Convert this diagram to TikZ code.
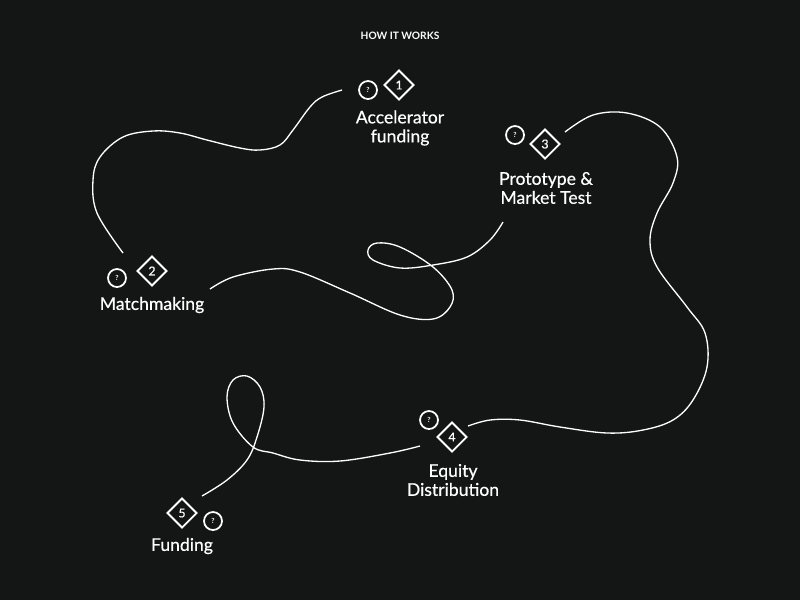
\documentclass[tikz,border=0pt]{standalone}
\usepackage{fontspec}
\setmainfont{Lato}
\newfontfamily\stepfont{Lato}[FakeBold=0.5]
\usetikzlibrary{shapes.geometric}
\definecolor{board}{HTML}{141515}
\tikzset{
  stepmark/.style={diamond, draw=white, line width=1.1pt, minimum size=0.6cm, inner sep=0pt, text=white, font=\stepfont\fontsize{7}{7}\selectfont},
  askmark/.style={circle, draw=white, line width=1pt, minimum size=0.36cm, inner sep=0pt, text=white, font=\bfseries\fontsize{4}{4}\selectfont},
  steplabel/.style={text=white, align=center, font=\stepfont\fontsize{10}{10.8}\selectfont},
  trail/.style={white, line width=0.75pt, smooth, tension=0.6},
}
\begin{document}
\begin{tikzpicture}[x=0.02cm,y=-0.02cm]
\fill[board] (0,0) rectangle (800,600);
\node[text=white, font=\bfseries\fontsize{5.8}{6}\selectfont] (title) at (400,36) {HOW IT WORKS};
% steps
\node[stepmark] (s1) at (399,85) {1};
\node[askmark] (q1) at (368,90) {?};
\node[steplabel] (t1) at (400,128) {Accelerator\\funding};
\node[stepmark] (s2) at (152,271) {2};
\node[askmark] (q2) at (117,278) {?};
\node[steplabel] (t2) at (152,305) {Matchmaking};
\node[stepmark] (s3) at (545,144) {3};
\node[askmark] (q3) at (515,135) {?};
\node[steplabel] (t3) at (546,188) {Prototype \&\\Market Test};
\node[stepmark] (s4) at (452,437) {4};
\node[askmark] (q4) at (429,420) {?};
\node[steplabel] (t4) at (453,480) {Equity\\Distribution};
\node[stepmark] (s5) at (182,513) {5};
\node[askmark] (q5) at (213,521) {?};
\node[steplabel] (t5) at (182,546) {Funding};
% trail ends
\coordinate (a1) at (342,90);
\coordinate (a2) at (123,253);
\coordinate (b2) at (210,289);
\coordinate (b3) at (503,222);
\coordinate (c3) at (565,132);
\coordinate (c4) at (468,426);
\coordinate (d4) at (420,446);
\coordinate (d5) at (202,496);
% trail
\draw[trail] plot coordinates {(a1) (322,97) (310,107) (293,130) (280,145) (260,150) (240,148) (207,140) (180,133) (153,131) (123,137) (100,157) (93,180) (97,213) (a2)};
\draw[trail] plot coordinates {(b2) (233,277) (273,269) (300,272) (350,293) (400,315) (433,319) (450,307) (452,290) (433,267) (400,247) (377,243) (368,250) (373,260) (400,268) (433,265) (467,257) (490,240) (b3)};
\draw[trail] plot coordinates {(c3) (593,115) (627,113) (660,127) (677,157) (673,183) (657,213) (650,240) (657,267) (687,307) (705,333) (707,367) (693,400) (673,420) (643,430) (607,433) (560,427) (520,420) (490,420) (c4)};
\draw[trail] plot coordinates {(d4) (390,453) (340,461) (300,460) (273,453) (253,447) (233,423) (227,397) (233,380) (247,376) (260,387) (264,407) (257,437) (247,460) (227,480) (d5)};
\end{tikzpicture}
\end{document}
